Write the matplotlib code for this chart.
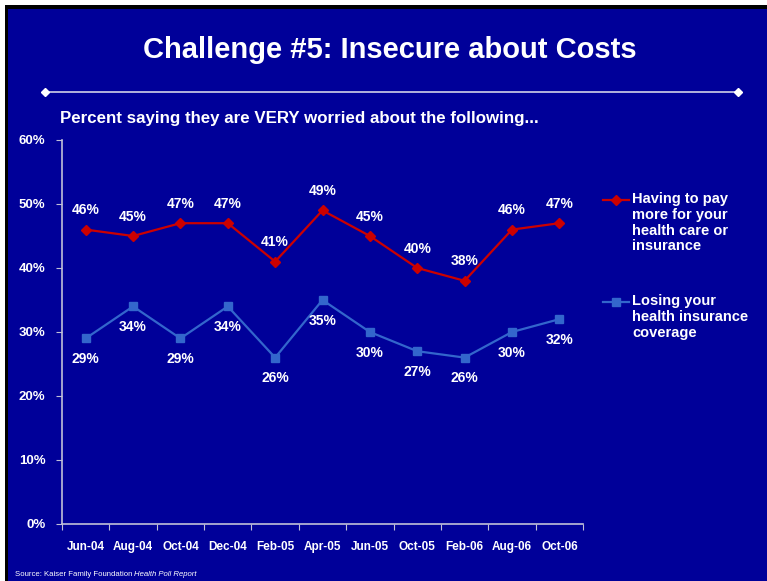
import matplotlib
matplotlib.use("Agg")
import matplotlib.pyplot as plt
from matplotlib.patches import Rectangle
from matplotlib.lines import Line2D

categories = ["Jun-04", "Aug-04", "Oct-04", "Dec-04", "Feb-05", "Apr-05",
              "Jun-05", "Oct-05", "Feb-06", "Aug-06", "Oct-06"]
pay_more = [46, 45, 47, 47, 41, 49, 45, 40, 38, 46, 47]
losing_ins = [29, 34, 29, 34, 26, 35, 30, 27, 26, 30, 32]
y_ticks = [0, 10, 20, 30, 40, 50, 60]
series_names = ["Having to pay\nmore for your\nhealth care or\ninsurance",
                "Losing your\nhealth insurance\ncoverage"]

BG = "#000099"
RED = "#CC0000"
BLUE = "#3366CC"
W, H = 767, 581

plt.rcParams['font.family'] = ['Liberation Sans', 'DejaVu Sans']
fig = plt.figure(figsize=(W / 100, H / 100), dpi=100)
fig.patch.set_facecolor("white")

def fx(px):
    return px / W

def fy(py):
    return 1 - py / H

# background panel with black border
fig.patches.append(Rectangle((fx(5), 0), (W - 5) / W, (H - 5) / H,
                             transform=fig.transFigure, facecolor="black",
                             edgecolor="none", zorder=-2))
fig.patches.append(Rectangle((fx(8), 0), (W - 8) / W, (H - 9) / H,
                             transform=fig.transFigure, facecolor=BG,
                             edgecolor="none", zorder=-1))

# title
fig.text(fx(390), fy(50), "Challenge #5: Insecure about Costs",
         ha="center", va="center", color="white", fontsize=21, fontweight="bold")
# divider line with diamonds
fig.add_artist(Line2D([fx(45), fx(738)], [fy(92), fy(92)],
                      transform=fig.transFigure, color="#D0D0E8", lw=1.2))
fig.add_artist(Line2D([fx(45), fx(738)], [fy(92), fy(92)],
                      transform=fig.transFigure, color="white", lw=0,
                      marker="D", markersize=4.5))
# subtitle
fig.text(fx(60), fy(118), "Percent saying they are VERY worried about the following...",
         ha="left", va="center", color="white", fontsize=12.2, fontweight="bold")
# source
t0 = fig.text(fx(15), fy(575), "Source: Kaiser Family Foundation ", ha="left", va="center",
              color="white", fontsize=5.6)
fig.canvas.draw()
bb = t0.get_window_extent()
fig.text(bb.x1 / W, fy(575), "Health Poll Report", ha="left", va="center",
         color="white", fontsize=5.6, style="italic")

ax = fig.add_axes([fx(62), fy(524), (583 - 62) / W, (524 - 140) / H])
ax.set_facecolor("none")
x = list(range(len(categories)))
ax.plot(x, pay_more, color=RED, lw=1.6, marker="D", markersize=5)
ax.plot(x, losing_ins, color=BLUE, lw=1.6, marker="s", markersize=6)

ax.set_xlim(-0.5, len(categories) - 0.5)
ax.set_ylim(0, 60)
ax.set_yticks(y_ticks)
ax.set_yticklabels([f"{v}%" for v in y_ticks])
ax.set_xticks([i - 0.5 for i in range(len(categories) + 1)])
ax.set_xticklabels([])
ax.set_xticks(x, minor=True)
ax.set_xticklabels(categories, minor=True)
ax.tick_params(axis="x", which="minor", length=0, pad=12, labelsize=8.5, labelcolor="white")
ax.tick_params(axis="x", which="major", length=4, direction="out", color="#C0C0D8")
ax.tick_params(axis="y", length=4, direction="out", color="#C0C0D8", labelcolor="white",
               labelsize=9.5, pad=8)
for lab in ax.get_xticklabels(minor=True) + ax.get_yticklabels():
    lab.set_fontweight("bold")
for s in ["top", "right"]:
    ax.spines[s].set_visible(False)
for s in ["left", "bottom"]:
    ax.spines[s].set_color("#C0C0D8")
    ax.spines[s].set_linewidth(1.2)

# data labels: red above, blue below
for i, v in enumerate(pay_more):
    ax.annotate(f"{v}%", (i, v), xytext=(0, 14), textcoords="offset points",
                ha="center", va="center", color="white", fontsize=10, fontweight="bold")
for i, v in enumerate(losing_ins):
    ax.annotate(f"{v}%", (i, v), xytext=(0, -15), textcoords="offset points",
                ha="center", va="center", color="white", fontsize=10, fontweight="bold")

# legend (handles aligned with first text line, as in the reference)
legend_specs = [(series_names[0], RED, "D", 5, 200), (series_names[1], BLUE, "s", 6, 302)]
for name, col, mk, ms, ypx in legend_specs:
    fig.add_artist(Line2D([fx(603), fx(629)], [fy(ypx), fy(ypx)], transform=fig.transFigure,
                          color=col, lw=1.6))
    fig.add_artist(Line2D([fx(616)], [fy(ypx)], transform=fig.transFigure,
                          color=col, lw=0, marker=mk, markersize=ms))
    fig.text(fx(632), fy(ypx - 8), name, ha="left", va="top", color="white",
             fontsize=10.5, fontweight="bold", linespacing=1.16)

fig.savefig("out.png", dpi=100, facecolor=fig.get_facecolor())
